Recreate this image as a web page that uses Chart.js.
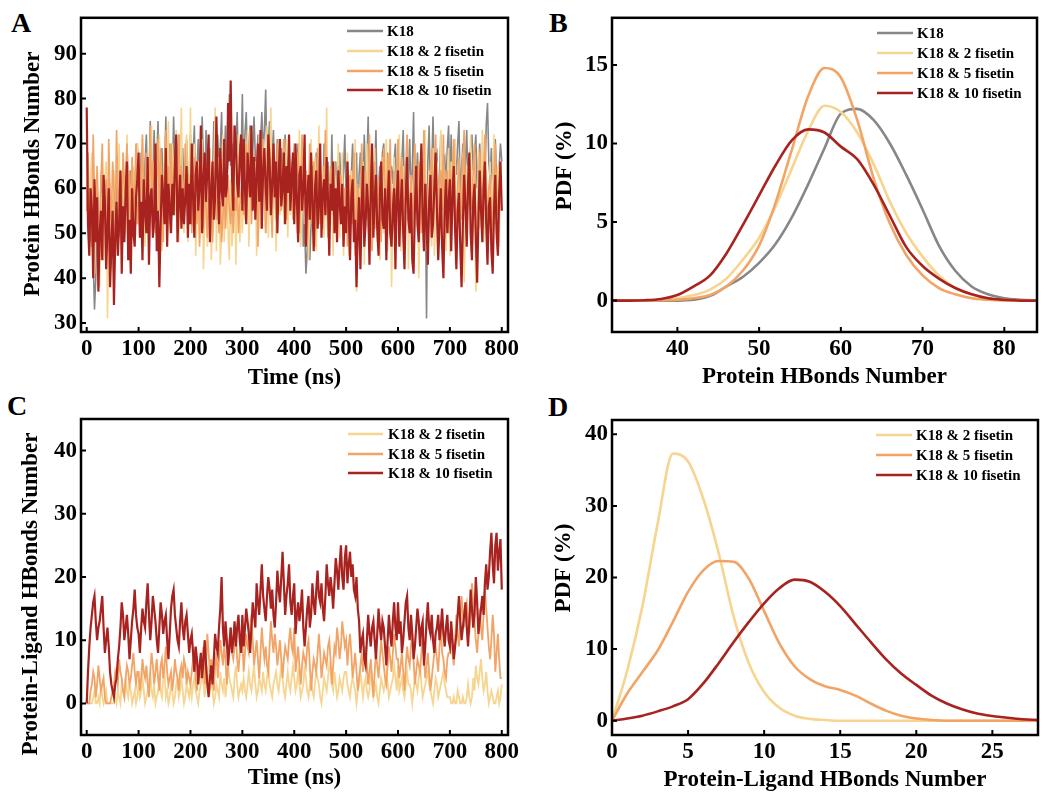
<!DOCTYPE html>
<html>
<head>
<meta charset="utf-8">
<script src="https://cdn.jsdelivr.net/npm/chart.js@4.4.1/dist/chart.umd.min.js"></script>
<style>
  body { margin: 0; background: #fff; width: 1050px; height: 801px; position: relative; overflow: hidden; }
  canvas { position: absolute; }
  .tag { position: absolute; font: bold 28px "Liberation Serif", serif; line-height: 1; color: #000; }
</style>
</head>
<body>
<div class="tag" style="left:11px;top:9px">A</div>
<div class="tag" style="left:549px;top:9px">B</div>
<div class="tag" style="left:7px;top:392px">C</div>
<div class="tag" style="left:548px;top:393px">D</div>
<canvas id="chartA" width="525" height="400" style="left:0;top:0"></canvas>
<canvas id="chartB" width="525" height="400" style="left:525px;top:0"></canvas>
<canvas id="chartC" width="525" height="401" style="left:0;top:400px"></canvas>
<canvas id="chartD" width="525" height="401" style="left:525px;top:400px"></canvas>
<script>
// ---- data ----
const frameStep = 2.5; // ns between sampled frames
const seriesNames = ['K18', 'K18 & 2 fisetin', 'K18 & 5 fisetin', 'K18 & 10 fisetin'];
const timeTicks = [0, 100, 200, 300, 400, 500, 600, 700, 800];

// A: protein HBonds vs time (one row = 100 ns)
const hbK18 = [55,
  62, 50, 48, 58, 44, 33, 40, 56, 52, 47, 63, 58, 50, 60, 55, 44, 65, 58, 52, 57, 58, 46, 60, 67, 55, 49, 61, 64, 49, 56, 70, 62, 58, 64, 56, 49, 60, 66, 70, 62,
  56, 68, 61, 52, 66, 72, 58, 60, 75, 54, 64, 73, 60, 66, 75, 55, 62, 69, 58, 62, 76, 57, 65, 70, 59, 61, 76, 64, 55, 67, 72, 58, 66, 69, 60, 64, 71, 58, 63, 72,
  60, 67, 74, 57, 64, 71, 63, 58, 76, 66, 58, 73, 62, 65, 69, 56, 63, 75, 61, 67, 72, 64, 69, 77, 59, 66, 74, 62, 66, 81, 65, 70, 62, 74, 68, 77, 63, 70, 66, 81,
  62, 72, 77, 65, 70, 74, 60, 68, 76, 67, 63, 72, 63, 70, 77, 68, 73, 82, 64, 70, 75, 61, 68, 73, 58, 65, 71, 62, 66, 69, 60, 67, 72, 58, 64, 68, 57, 63, 66, 69,
  57, 64, 70, 55, 60, 66, 47, 52, 41, 46, 60, 44, 52, 65, 56, 61, 68, 53, 60, 64, 58, 52, 70, 54, 60, 66, 60, 55, 72, 57, 63, 66, 58, 55, 68, 61, 57, 64, 72, 57,
  66, 60, 55, 63, 70, 58, 62, 68, 52, 63, 68, 57, 60, 72, 60, 65, 76, 56, 61, 67, 59, 64, 73, 55, 60, 65, 61, 68, 70, 57, 63, 68, 55, 62, 65, 61, 66, 70, 57, 64,
  68, 60, 66, 73, 56, 63, 66, 62, 71, 58, 64, 77, 55, 61, 68, 59, 65, 56, 63, 70, 59, 31, 66, 74, 57, 64, 76, 61, 67, 68, 56, 63, 72, 58, 66, 67, 61, 69, 74, 60,
  72, 58, 65, 67, 63, 70, 75, 57, 64, 70, 61, 66, 73, 59, 64, 69, 72, 64, 68, 72, 60, 66, 70, 58, 63, 56, 62, 74, 79, 66, 62, 69, 58, 66, 71, 62, 57, 65, 70, 66
];
const hbFis2 = [60,
  52, 45, 63, 68, 50, 41, 58, 63, 47, 38, 55, 59, 44, 62, 66, 31, 48, 57, 42, 53, 64, 56, 47, 60, 70, 52, 45, 58, 62, 50, 72, 55, 46, 61, 58, 65, 49, 60, 70, 65,
  52, 60, 71, 54, 47, 63, 67, 55, 58, 74, 49, 62, 69, 51, 53, 72, 60, 46, 58, 68, 56, 63, 75, 50, 57, 70, 62, 54, 73, 59, 48, 65, 78, 55, 50, 67, 72, 48, 60, 78,
  52, 63, 70, 45, 55, 66, 49, 58, 71, 42, 53, 65, 47, 60, 69, 44, 52, 63, 78, 46, 58, 67, 43, 50, 72, 48, 57, 64, 50, 44, 62, 47, 55, 66, 43, 58, 72, 48, 56, 50,
  69, 53, 60, 73, 47, 58, 70, 56, 63, 66, 45, 57, 72, 51, 62, 68, 58, 50, 74, 49, 60, 78, 55, 63, 67, 46, 58, 71, 54, 60, 66, 52, 58, 71, 49, 62, 54, 66, 58, 54,
  66, 50, 59, 73, 47, 55, 69, 58, 55, 63, 44, 56, 71, 52, 60, 67, 46, 58, 74, 53, 61, 65, 49, 57, 78, 51, 60, 62, 56, 45, 66, 53, 60, 70, 49, 57, 68, 45, 60, 56,
  68, 45, 56, 64, 52, 60, 71, 37, 50, 60, 48, 58, 66, 43, 55, 70, 51, 58, 63, 47, 56, 69, 54, 48, 61, 44, 57, 67, 50, 62, 71, 46, 60, 66, 38, 53, 67, 50, 57, 62,
  72, 46, 58, 65, 53, 60, 68, 42, 55, 63, 49, 58, 70, 55, 61, 40, 52, 67, 51, 58, 73, 46, 56, 64, 52, 47, 69, 45, 55, 66, 58, 49, 73, 51, 60, 64, 46, 62, 69, 45,
  66, 53, 60, 71, 44, 56, 63, 50, 58, 68, 39, 52, 65, 56, 60, 72, 47, 55, 62, 37, 48, 69, 51, 58, 73, 48, 57, 64, 55, 50, 66, 48, 60, 72, 52, 58, 65, 47, 64, 55
];
const hbFis5 = [55,
  68, 52, 60, 47, 72, 58, 50, 65, 55, 44, 62, 70, 52, 58, 62, 46, 71, 56, 53, 66, 60, 48, 73, 58, 55, 64, 50, 68, 62, 57, 70, 53, 64, 49, 67, 55, 59, 70, 52, 57,
  49, 63, 72, 56, 60, 68, 51, 59, 74, 58, 66, 53, 50, 62, 71, 55, 69, 60, 48, 64, 73, 57, 65, 52, 70, 59, 54, 66, 63, 50, 72, 56, 65, 61, 54, 70, 58, 63, 54, 63,
  50, 58, 67, 55, 52, 62, 47, 56, 60, 51, 64, 55, 49, 58, 53, 61, 48, 55, 59, 53, 61, 50, 57, 48, 54, 60, 51, 57, 63, 55, 52, 60, 50, 58, 55, 62, 50, 56, 59, 62,
  54, 66, 70, 58, 62, 73, 52, 60, 68, 56, 64, 47, 58, 66, 55, 71, 62, 50, 57, 63, 69, 57, 49, 65, 60, 53, 70, 58, 62, 55, 66, 71, 59, 53, 64, 68, 57, 61, 53, 70,
  56, 63, 68, 50, 60, 72, 55, 62, 64, 48, 58, 70, 53, 61, 66, 47, 59, 69, 56, 52, 63, 51, 57, 73, 60, 49, 55, 65, 62, 54, 60, 58, 50, 65, 57, 63, 54, 49, 60, 60,
  47, 58, 63, 52, 60, 68, 45, 55, 61, 49, 55, 70, 58, 49, 64, 53, 60, 72, 50, 46, 58, 66, 51, 57, 62, 55, 48, 62, 69, 58, 52, 67, 60, 71, 49, 57, 64, 52, 59, 71,
  55, 62, 67, 58, 49, 65, 72, 58, 53, 63, 47, 60, 70, 57, 54, 66, 62, 50, 58, 73, 56, 61, 48, 56, 64, 69, 53, 60, 72, 58, 50, 61, 64, 55, 72, 49, 58, 64, 50, 64,
  56, 64, 71, 52, 48, 60, 67, 57, 53, 66, 73, 58, 50, 62, 65, 55, 57, 64, 70, 52, 45, 58, 68, 60, 52, 64, 72, 57, 55, 60, 63, 51, 49, 62, 70, 58, 54, 60, 62, 62
];
const hbFis10 = [78,
  52, 45, 60, 55, 40, 62, 48, 58, 37, 50, 55, 44, 63, 57, 42, 51, 60, 38, 47, 55, 34, 49, 57, 45, 52, 64, 41, 56, 48, 59, 66, 44, 53, 41, 60, 50, 47, 58, 62, 68,
  49, 57, 44, 62, 55, 50, 67, 43, 58, 60, 49, 53, 70, 46, 55, 38, 52, 63, 58, 52, 69, 47, 61, 56, 50, 61, 54, 66, 72, 48, 57, 63, 51, 60, 52, 58, 65, 49, 61, 52,
  70, 58, 49, 63, 66, 55, 60, 74, 50, 62, 68, 57, 64, 72, 48, 59, 66, 53, 58, 76, 62, 52, 69, 60, 56, 71, 58, 60, 79, 66, 84, 63, 55, 74, 70, 61, 58, 67, 72, 55,
  71, 60, 52, 68, 63, 58, 74, 55, 67, 53, 62, 70, 57, 73, 51, 64, 69, 60, 55, 72, 66, 54, 61, 70, 58, 66, 50, 63, 71, 56, 60, 68, 52, 65, 59, 72, 55, 62, 68, 52,
  70, 58, 48, 63, 65, 55, 60, 72, 47, 58, 63, 53, 68, 57, 46, 60, 64, 51, 56, 70, 49, 59, 62, 54, 67, 58, 45, 61, 55, 66, 50, 60, 48, 64, 57, 52, 61, 47, 56, 50,
  66, 55, 44, 58, 62, 48, 53, 38, 50, 58, 42, 55, 65, 47, 52, 61, 56, 43, 59, 70, 49, 57, 63, 51, 45, 58, 66, 53, 51, 60, 44, 57, 64, 50, 47, 55, 60, 42, 58, 64,
  47, 56, 62, 50, 42, 58, 67, 53, 50, 59, 44, 41, 55, 65, 52, 48, 60, 70, 54, 46, 61, 52, 43, 57, 63, 49, 52, 60, 68, 55, 44, 52, 60, 47, 40, 55, 62, 50, 57, 62,
  46, 58, 65, 51, 42, 55, 59, 47, 38, 52, 63, 56, 47, 61, 68, 50, 44, 57, 61, 49, 39, 53, 64, 55, 48, 60, 66, 52, 43, 56, 58, 46, 41, 55, 63, 50, 45, 59, 66, 55
];
const hbTicks = [30, 40, 50, 60, 70, 80, 90];

// B: PDF of protein HBonds
const pdfBins = [32, 34, 36, 38, 40, 42, 44, 46, 48, 50, 52, 54, 56, 58, 60, 62, 64, 66, 68, 70, 72, 74, 76, 78, 80, 82, 84];
const pdfK18 = [0, 0, 0, 0, 0, 0.05, 0.3, 0.9, 1.5, 2.4, 3.6, 5.3, 7.4, 9.7, 11.9, 12.2, 11.5, 10.0, 8.0, 5.8, 3.5, 1.9, 0.9, 0.4, 0.15, 0.05, 0];
const pdfFis2 = [0, 0, 0.02, 0.08, 0.15, 0.35, 0.7, 1.4, 2.6, 4.0, 6.0, 8.4, 10.8, 12.4, 12.0, 10.7, 8.7, 6.3, 4.3, 2.8, 1.6, 0.8, 0.4, 0.15, 0.05, 0, 0];
const pdfFis5 = [0, 0, 0, 0.02, 0.05, 0.15, 0.35, 0.9, 1.9, 3.5, 6.2, 9.6, 13.0, 14.8, 14.2, 11.5, 7.8, 4.9, 2.9, 1.6, 0.8, 0.4, 0.15, 0.05, 0, 0, 0];
const pdfFis10 = [0, 0, 0.02, 0.1, 0.35, 0.9, 1.6, 3.0, 4.8, 6.7, 8.6, 10.2, 10.9, 10.7, 9.8, 9.0, 7.4, 5.4, 3.4, 2.2, 1.4, 0.8, 0.4, 0.15, 0.05, 0, 0];
const pdfHbTicksX = [40, 50, 60, 70, 80];
const pdfHbTicksY = [0, 5, 10, 15];

// C: protein-ligand HBonds vs time (one row = 100 ns)
const plFis2 = [0,
  0, 0, 0, 0, 1, 2, 0, 0, 1, 0, 3, 1, 0, 1, 2, 0, 0, 0, 0, 0, 0, 1, 0, 2, 1, 0, 3, 2, 1, 4, 2, 1, 3, 2, 0, 1, 2, 0, 1, 3,
  1, 2, 4, 2, 0, 1, 2, 3, 5, 2, 1, 3, 0, 1, 2, 4, 2, 1, 4, 5, 1, 2, 0, 1, 3, 2, 0, 1, 3, 4, 1, 2, 4, 2, 0, 1, 3, 2, 1, 3,
  1, 3, 4, 2, 1, 0, 2, 3, 5, 3, 1, 4, 6, 3, 2, 4, 2, 0, 1, 3, 2, 1, 5, 3, 2, 4, 1, 3, 6, 4, 3, 2, 1, 4, 6, 3, 1, 2, 3, 2,
  4, 2, 1, 3, 5, 3, 2, 4, 6, 3, 1, 2, 4, 3, 2, 5, 3, 2, 4, 6, 3, 2, 1, 3, 4, 5, 3, 2, 4, 6, 4, 2, 1, 3, 5, 3, 2, 4, 6, 4,
  2, 3, 5, 3, 1, 2, 3, 6, 4, 2, 1, 3, 4, 2, 1, 3, 5, 4, 3, 1, 0, 2, 4, 3, 2, 4, 6, 5, 3, 2, 5, 3, 1, 2, 4, 3, 2, 4, 5, 5,
  3, 2, 1, 3, 4, 3, 2, 0, 2, 3, 5, 3, 1, 3, 4, 2, 1, 2, 6, 3, 1, 2, 3, 1, 0, 2, 4, 3, 2, 3, 5, 3, 1, 2, 3, 4, 6, 4, 2, 6,
  2, 3, 4, 2, 1, 3, 5, 3, 3, 2, 0, 2, 4, 3, 2, 4, 6, 3, 1, 2, 3, 4, 5, 3, 2, 1, 0, 2, 4, 3, 1, 2, 3, 4, 5, 3, 2, 1, 1, 1,
  0, 0, 1, 0, 0, 2, 1, 0, 0, 1, 0, 0, 1, 3, 1, 0, 1, 4, 2, 6, 4, 3, 5, 7, 4, 2, 3, 5, 2, 0, 1, 2, 1, 0, 0, 1, 2, 0, 1, 3
];
const plFis5 = [0,
  0, 0, 2, 3, 5, 4, 1, 3, 6, 4, 2, 3, 4, 1, 0, 0, 0, 0, 1, 2, 3, 5, 4, 3, 7, 5, 4, 2, 1, 4, 6, 5, 3, 4, 6, 8, 5, 3, 5, 5,
  2, 4, 7, 5, 4, 6, 3, 1, 5, 8, 6, 3, 5, 7, 4, 2, 6, 7, 4, 6, 9, 5, 3, 4, 5, 2, 4, 7, 5, 4, 2, 5, 6, 4, 7, 6, 3, 5, 4, 3,
  5, 7, 8, 4, 2, 5, 6, 4, 7, 9, 3, 6, 11, 8, 5, 7, 4, 2, 6, 8, 4, 7, 10, 8, 6, 9, 7, 3, 6, 10, 12, 8, 7, 9, 11, 7, 5, 8, 10, 10,
  5, 8, 11, 9, 8, 12, 14, 10, 6, 8, 10, 7, 4, 8, 12, 9, 7, 9, 6, 5, 9, 13, 10, 8, 11, 9, 6, 8, 10, 7, 4, 7, 9, 8, 7, 10, 12, 9, 8, 12,
  5, 7, 9, 6, 3, 6, 8, 7, 6, 9, 10, 6, 2, 5, 7, 6, 5, 8, 11, 8, 4, 6, 8, 7, 6, 9, 10, 7, 3, 6, 9, 8, 12, 10, 7, 9, 13, 11, 9, 10,
  6, 9, 11, 8, 4, 6, 8, 5, 2, 4, 6, 8, 5, 7, 9, 6, 3, 5, 7, 4, 1, 5, 8, 6, 4, 7, 10, 8, 6, 4, 3, 6, 9, 7, 5, 8, 11, 9, 7, 7,
  4, 6, 8, 5, 2, 6, 9, 7, 6, 9, 11, 7, 3, 5, 7, 6, 5, 8, 10, 7, 4, 6, 8, 5, 2, 4, 6, 8, 9, 7, 5, 9, 12, 8, 7, 5, 4, 7, 8, 8,
  10, 8, 6, 10, 14, 11, 9, 13, 17, 14, 12, 15, 16, 13, 11, 15, 19, 16, 13, 10, 8, 11, 15, 12, 10, 14, 18, 15, 12, 9, 7, 10, 14, 11, 5, 8, 11, 7, 4, 4
];
const plFis10 = [0,
  5, 9, 12, 14, 16, 17, 13, 10, 12, 13, 15, 17, 12, 8, 10, 12, 9, 5, 3, 2, 1, 3, 4, 7, 9, 12, 16, 14, 10, 12, 14, 11, 7, 10, 13, 15, 18, 14, 12, 11,
  8, 12, 15, 13, 12, 16, 19, 14, 10, 13, 17, 15, 13, 10, 8, 12, 16, 14, 11, 13, 14, 10, 7, 11, 15, 17, 18, 14, 12, 10, 9, 13, 16, 12, 10, 13, 14, 11, 8, 10,
  11, 8, 5, 9, 7, 3, 6, 8, 4, 7, 10, 6, 3, 1, 4, 6, 3, 7, 11, 9, 8, 12, 15, 20, 12, 9, 13, 10, 6, 9, 12, 8, 10, 13, 9, 12, 14, 10, 8, 14,
  9, 12, 15, 13, 11, 8, 12, 16, 14, 12, 19, 16, 14, 18, 22, 17, 15, 13, 17, 20, 18, 15, 18, 14, 12, 16, 21, 18, 16, 20, 24, 19, 14, 17, 19, 22, 16, 14, 17, 19,
  11, 14, 16, 13, 15, 18, 12, 9, 12, 15, 17, 12, 14, 19, 16, 14, 18, 21, 17, 16, 19, 15, 13, 17, 22, 19, 17, 20, 18, 15, 19, 23, 21, 18, 22, 25, 20, 18, 23, 25,
  19, 22, 24, 20, 22, 18, 17, 20, 15, 13, 8, 10, 11, 7, 6, 10, 14, 11, 9, 12, 13, 10, 7, 11, 15, 12, 10, 13, 12, 9, 6, 10, 14, 11, 9, 13, 16, 12, 10, 16,
  11, 13, 8, 10, 13, 16, 17, 12, 10, 14, 11, 7, 9, 12, 15, 13, 9, 12, 13, 6, 9, 13, 16, 12, 11, 14, 10, 8, 11, 12, 14, 10, 12, 15, 11, 9, 12, 14, 10, 9,
  13, 10, 7, 9, 11, 14, 17, 13, 10, 12, 14, 16, 12, 9, 13, 18, 15, 12, 14, 20, 16, 11, 13, 15, 17, 14, 19, 22, 18, 20, 24, 27, 22, 19, 25, 27, 21, 24, 26, 18
];
const plTicks = [0, 10, 20, 30, 40];

// D: PDF of protein-ligand HBonds
const ligBins = [0, 1, 2, 3, 4, 5, 6, 7, 8, 9, 10, 11, 12, 13, 14, 15, 16, 17, 18, 19, 20, 21, 22, 23, 24, 25, 26, 27, 28];
const ligPdfFis2 = [0, 7, 16, 27.5, 37.3, 36.2, 31, 23.5, 14.5, 8, 4, 1.8, 0.7, 0.25, 0.1, 0, 0, 0, 0, 0, 0, 0, 0, 0, 0, 0, 0, 0, 0];
const ligPdfFis5 = [0, 3.8, 6.8, 9.8, 13.8, 18.0, 21.0, 22.3, 22.2, 19.8, 15.3, 10.8, 7.6, 5.8, 4.8, 4.3, 3.5, 2.4, 1.4, 0.7, 0.3, 0.1, 0, 0, 0, 0, 0, 0, 0];
const ligPdfFis10 = [0, 0.3, 0.7, 1.3, 2.0, 3.0, 5.2, 8.0, 11.0, 13.8, 16.4, 18.5, 19.7, 19.4, 18.0, 16.0, 13.5, 11.0, 8.6, 6.6, 5.0, 3.5, 2.4, 1.6, 1.0, 0.65, 0.4, 0.2, 0.1];
const ligTicksX = [0, 5, 10, 15, 20, 25];
const ligTicksY = [0, 10, 20, 30, 40];

// ---- style ----
const colors = { k18: '#878787', f2: '#F7D48F', f5: '#F2A466', f10: '#A8231F' };
const serif = '"Liberation Serif", "Times New Roman", serif';
Chart.defaults.font.family = serif;
Chart.defaults.font.weight = 'bold';
Chart.defaults.color = '#000';

const toPts = (xs, ys) => ys.map((v, i) => ({ x: xs[i], y: v }));
const frameTimes = ys => ys.map((_, i) => i * frameStep);

// frame, inward ticks, y title and in-plot legend
const framePlugin = {
  id: 'frame',
  afterDraw(chart, args, opts) {
    const { ctx, chartArea: a, scales: { x, y } } = chart;
    ctx.save();
    ctx.strokeStyle = '#000';
    ctx.lineWidth = 2;
    ctx.beginPath();
    x.ticks.forEach(t => {
      const px = x.getPixelForValue(t.value);
      ctx.moveTo(px, a.bottom);
      ctx.lineTo(px, a.bottom - 5);
    });
    y.ticks.forEach(t => {
      const py = y.getPixelForValue(t.value);
      ctx.moveTo(a.left, py);
      ctx.lineTo(a.left + 5, py);
    });
    ctx.stroke();
    ctx.lineWidth = 2.5;
    ctx.strokeRect(a.left, a.top, a.width, a.height);

    // rotated y title
    ctx.fillStyle = '#000';
    ctx.font = 'bold 23px ' + serif;
    ctx.textAlign = 'center';
    ctx.textBaseline = 'middle';
    ctx.save();
    ctx.translate(opts.yTitle.x, opts.yTitle.y);
    ctx.rotate(-Math.PI / 2);
    ctx.fillText(opts.yTitle.text, 0, 0);
    ctx.restore();

    // legend
    ctx.font = 'bold 15px ' + serif;
    ctx.textAlign = 'left';
    chart.data.datasets.forEach((ds, i) => {
      const yy = opts.rows[i];
      ctx.strokeStyle = ds.borderColor;
      ctx.lineWidth = 2.5;
      ctx.beginPath();
      ctx.moveTo(opts.x1, yy);
      ctx.lineTo(opts.x2, yy);
      ctx.stroke();
      ctx.fillText(ds.label, opts.tx, yy + 1);
    });
    ctx.restore();
  }
};

function fixTicks(list) {
  return scale => { scale.ticks = list.map(v => ({ value: v })); };
}

function panelOptions(p) {
  return {
    responsive: false,
    animation: false,
    layout: { padding: { left: 0, top: p.top, right: p.right, bottom: 0 } },
    plugins: {
      legend: { display: false },
      tooltip: { enabled: false },
      frame: p.legend
    },
    elements: { point: { radius: 0 } },
    scales: {
      x: {
        type: 'linear', min: p.xMin, max: p.xMax,
        afterBuildTicks: fixTicks(p.xTicks),
        afterFit: s => { s.height = p.xHeight; },
        grid: { display: false, drawTicks: false },
        border: { display: false },
        ticks: { font: { size: 23, weight: 'bold' }, color: '#000', padding: 3, maxRotation: 0, autoSkip: false },
        title: { display: true, text: p.xTitle, font: { size: 23, weight: 'bold' }, color: '#000', padding: { top: 0, bottom: p.xTitlePad } }
      },
      y: {
        type: 'linear', min: p.yMin, max: p.yMax,
        afterBuildTicks: fixTicks(p.yTicks),
        afterFit: s => { s.width = p.yWidth; },
        grid: { display: false, drawTicks: false },
        border: { display: false },
        ticks: { font: { size: 23, weight: 'bold' }, color: '#000', padding: 4, autoSkip: false }
      }
    }
  };
}

function traceSet(label, ys, color, order, width) {
  return {
    label: label,
    data: toPts(frameTimes(ys), ys),
    borderColor: color,
    borderWidth: width,
    order: order,
    fill: false
  };
}

function curveSet(label, xs, ys, color, order) {
  return {
    label: label,
    data: toPts(xs, ys),
    borderColor: color,
    borderWidth: 2.6,
    cubicInterpolationMode: 'monotone',
    order: order,
    fill: false
  };
}

new Chart(document.getElementById('chartA'), {
  type: 'line',
  data: {
    datasets: [
      traceSet(seriesNames[0], hbK18, colors.k18, 3, 1.6),
      traceSet(seriesNames[1], hbFis2, colors.f2, 2, 1.6),
      traceSet(seriesNames[2], hbFis5, colors.f5, 1, 1.7),
      traceSet(seriesNames[3], hbFis10, colors.f10, 0, 2.2)
    ]
  },
  options: panelOptions({
    top: 16, right: 17, xHeight: 68, yWidth: 81,
    xMin: -11, xMax: 812, yMin: 28, yMax: 98,
    xTicks: timeTicks, yTicks: hbTicks,
    xTitle: 'Time (ns)', xTitlePad: 8,
    legend: { x1: 347, x2: 383, tx: 387, rows: [31, 51, 71, 90],
      yTitle: { text: 'Protein HBonds Number', x: 33, y: 174 } }
  }),
  plugins: [framePlugin]
});

new Chart(document.getElementById('chartB'), {
  type: 'line',
  data: {
    datasets: [
      curveSet(seriesNames[0], pdfBins, pdfK18, colors.k18, 3),
      curveSet(seriesNames[1], pdfBins, pdfFis2, colors.f2, 2),
      curveSet(seriesNames[2], pdfBins, pdfFis5, colors.f5, 1),
      curveSet(seriesNames[3], pdfBins, pdfFis10, colors.f10, 0)
    ]
  },
  options: panelOptions({
    top: 16, right: 13, xHeight: 68, yWidth: 87,
    xMin: 32, xMax: 84, yMin: -2, yMax: 18,
    xTicks: pdfHbTicksX, yTicks: pdfHbTicksY,
    xTitle: 'Protein HBonds Number', xTitlePad: 9,
    legend: { x1: 352, x2: 388, tx: 392, rows: [33, 53, 73, 93],
      yTitle: { text: 'PDF (%)', x: 40, y: 166 } }
  }),
  plugins: [framePlugin]
});

new Chart(document.getElementById('chartC'), {
  type: 'line',
  data: {
    datasets: [
      traceSet(seriesNames[1], plFis2, colors.f2, 2, 1.8),
      traceSet(seriesNames[2], plFis5, colors.f5, 1, 1.8),
      traceSet(seriesNames[3], plFis10, colors.f10, 0, 2.2)
    ]
  },
  options: panelOptions({
    top: 19, right: 17, xHeight: 66, yWidth: 81,
    xMin: -11, xMax: 812, yMin: -5, yMax: 45,
    xTicks: timeTicks, yTicks: plTicks,
    xTitle: 'Time (ns)', xTitlePad: 9,
    legend: { x1: 348, x2: 383, tx: 388, rows: [34, 54, 73],
      yTitle: { text: 'Protein-Ligand HBonds Number', x: 31, y: 194 } }
  }),
  plugins: [framePlugin]
});

new Chart(document.getElementById('chartD'), {
  type: 'line',
  data: {
    datasets: [
      curveSet(seriesNames[1], ligBins, ligPdfFis2, colors.f2, 2),
      curveSet(seriesNames[2], ligBins, ligPdfFis5, colors.f5, 1),
      curveSet(seriesNames[3], ligBins, ligPdfFis10, colors.f10, 0)
    ]
  },
  options: panelOptions({
    top: 20, right: 12, xHeight: 66, yWidth: 87,
    xMin: 0, xMax: 28, yMin: -2, yMax: 42,
    xTicks: ligTicksX, yTicks: ligTicksY,
    xTitle: 'Protein-Ligand HBonds Number', xTitlePad: 7,
    legend: { x1: 351, x2: 387, tx: 391, rows: [35, 55, 75],
      yTitle: { text: 'PDF (%)', x: 39, y: 168 } }
  }),
  plugins: [framePlugin]
});
</script>
</body>
</html>
